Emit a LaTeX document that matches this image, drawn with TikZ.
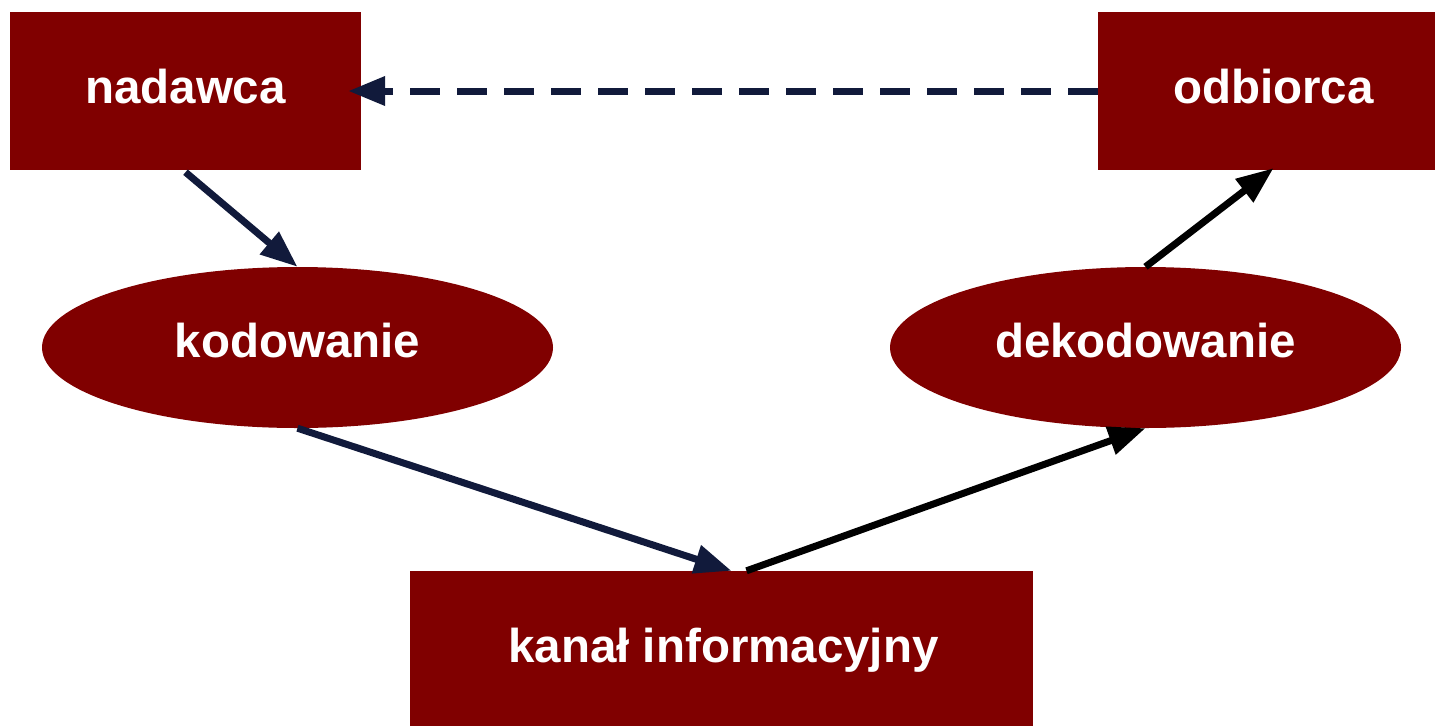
\documentclass[tikz,border=0pt]{standalone}
\usepackage{fontspec}
\setmainfont{Liberation Sans}
\usetikzlibrary{arrows.meta,shapes.geometric}
\definecolor{boxred}{HTML}{800000}
\definecolor{navy}{HTML}{111A3B}
\begin{document}
\begin{tikzpicture}[x=1pt,y=-1pt,
  lbl/.style={text=white,font=\fontsize{47.5}{54}\selectfont\bfseries,inner sep=0pt},
  boxnode/.style={fill=boxred,rectangle,inner sep=0pt},
  ellnode/.style={fill=boxred,ellipse,inner sep=0pt},
  conn/.style={line width=7pt,-{Triangle[length=37pt,width=28pt]}},
]
\useasboundingbox (0,0) rectangle (1435,726);
\node[boxnode,minimum width=351pt,minimum height=158pt] (nad) at (185.5,91) {};
\node[boxnode,minimum width=337pt,minimum height=158pt] (odb) at (1266.5,91) {};
\node[ellnode,minimum width=511pt,minimum height=161pt] (kod) at (297.5,347.5) {};
\node[ellnode,minimum width=511pt,minimum height=161pt] (dek) at (1145.5,347.5) {};
\node[boxnode,minimum width=623pt,minimum height=155pt] (kan) at (721.5,648.5) {};
\node[lbl] (tnad) at ([yshift=4pt]nad.center) {nadawca};
\node[lbl] (todb) at ([xshift=7pt,yshift=4pt]odb.center) {odbiorca};
\node[lbl] (tkod) at ([yshift=7pt]kod.center) {kodowanie};
\node[lbl] (tdek) at ([yshift=7pt]dek.center) {dekodowanie};
\node[lbl] (tkan) at ([xshift=2pt,yshift=-2pt]kan.center) {kanał informacyjny};
\draw[conn,navy,dash pattern=on 30pt off 17pt] (odb.west) -- ([xshift=-13pt]nad.east);
\draw[conn,navy] ([yshift=-2pt]nad.south) -- (kod.north);
\draw[conn,navy] (kod.south) -- ([xshift=10pt]kan.north);
\draw[conn,black] ([xshift=25pt]kan.north) -- (dek.south);
\draw[conn,black] (dek.north) -- ([xshift=7pt,yshift=2pt]odb.south);
\end{tikzpicture}
\end{document}
